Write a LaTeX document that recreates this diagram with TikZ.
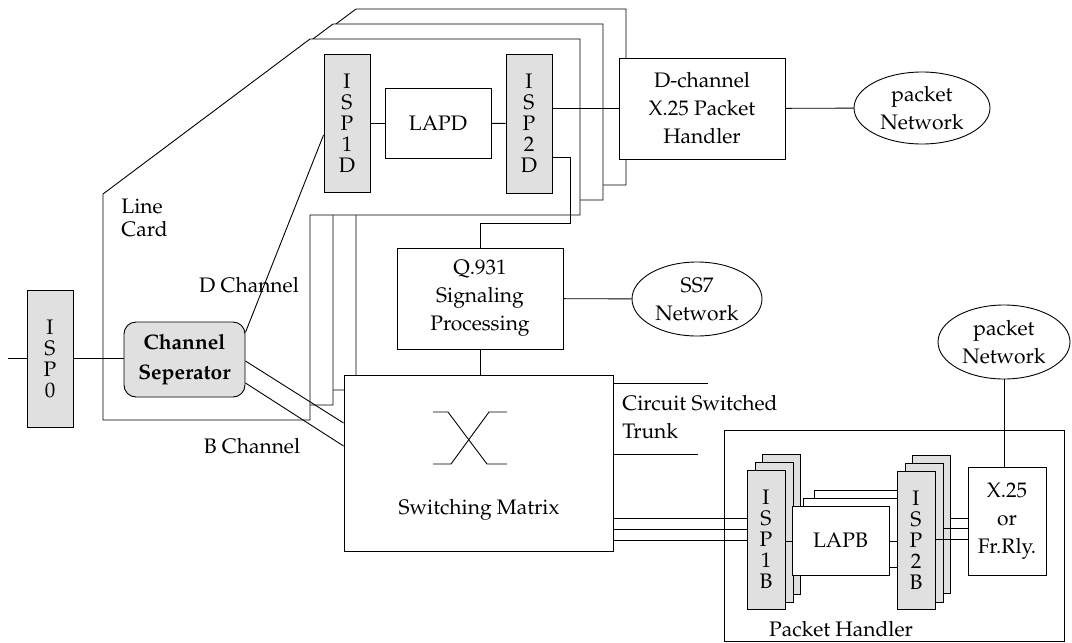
\documentclass[tikz,border=0pt]{standalone}
\usepackage[T1]{fontenc}
\usepackage{mathpazo}
\usetikzlibrary{shapes.geometric}

\begin{document}
\begin{tikzpicture}[x=1pt,y=-1pt,line width=0.9pt,
  every node/.style={inner sep=0pt,font=\fontsize{21}{28}\selectfont},
  box/.style={draw,fill=white,align=center},
  ispbox/.style={draw,fill=black!12,align=center,minimum width=38,
    font=\fontsize{21}{21}\selectfont},
  netw/.style={draw,fill=white,ellipse,align=center},
  card/.style={draw,fill=white}]
\useasboundingbox (0,0) rectangle (1072,643);
\foreach \s in {2,1,0}
  \draw[card,shift={(23*\s,-15*\s)}] (103,194) -- (310,39) -- (580,39)
    -- (580,215) -- (310,215) -- (310,420) -- (103,420) -- cycle;
\node[anchor=west,align=left,font=\fontsize{21}{23}\selectfont] (lc) at (121,217.5) {Line\\Card};
\node[ispbox,minimum width=46,minimum height=137] (isp0) at (50,358.5) {I\\S\\P\\0};
\node[box,fill=black!12,rounded corners=12,minimum width=121,minimum height=75,
  font=\fontsize{21}{30}\selectfont\bfseries] (chsep) at (184.5,359.5) {Channel\\Seperator};
\node[ispbox,minimum width=46,minimum height=138] (isp1d) at (347,123) {I\\S\\P\\1\\D};
\node[box,minimum width=106,minimum height=70] (lapd) at (438,123) {LAPD};
\node[ispbox,minimum width=46,minimum height=139] (isp2d) at (529,123.5) {I\\S\\P\\2\\D};
\node[box,minimum width=166,minimum height=101] (dph) at (702,108.5) {D-channel\\X.25 Packet\\Handler};
\node[netw,minimum width=136,minimum height=72] (pnet1) at (922,108) {packet\\Network};
\node[box,minimum width=166,minimum height=101] (q931) at (480,298.5) {Q.931\\Signaling\\Processing};
\node[netw,minimum width=130,minimum height=74] (ss7) at (697,299) {SS7\\Network};
\node[box,minimum width=269,minimum height=176] (swm) at (478.5,463) {};
\node (swmlab) at (479,510) {Switching Matrix};
\node[draw,minimum width=340,minimum height=211] (ph) at (894,535.5) {};
\node (phlab) at (841,629) {Packet Handler};
\node[ispbox,minimum height=140] (isp1bc) at (781,524) {};
\node[ispbox,minimum height=140] (isp1bb) at (774,532) {};
\node[ispbox,minimum height=139] (isp1b) at (766,539.5) {I\\S\\P\\1\\B};
\node[box,minimum width=97,minimum height=69] (lapbc) at (862.5,524.5) {};
\node[box,minimum width=97,minimum height=69] (lapbb) at (851.5,532.5) {};
\node[box,minimum width=97,minimum height=69] (lapb) at (840.5,540.5) {LAPB};
\node[ispbox,minimum height=138] (isp2bc) at (931,524) {};
\node[ispbox,minimum height=139] (isp2bb) at (924,532.5) {};
\node[ispbox,minimum height=138] (isp2b) at (916,540) {I\\S\\P\\2\\B};
\node[box,minimum width=78,minimum height=108] (x25) at (1007,521) {X.25\\or\\Fr.Rly.};
\node[netw,minimum width=132,minimum height=74] (pnet2) at (1004,342) {packet\\Network};
\node[anchor=west,align=left] (cst) at (622,417) {Circuit Switched\\Trunk};
\node (dlab) at (249,285) {D Channel};
\node (blab) at (252,446) {B Channel};
\draw (433,412) -- (448,412) -- (487,464) -- (507,464);
\draw (433,464) -- (451,464) -- (489,412) -- (507,412);
\coordinate (in) at (8,358);
\coordinate (bend) at (570,223);
\coordinate (trk1) at (708,383);
\coordinate (trk2) at (698,454);
\draw (in) -- (in -| isp0.west);
\draw (isp0.east |- 0,358) -- (chsep.west |- 0,358);
\draw (chsep.24) -- ([yshift=-12pt]isp1d.west);
\draw ([yshift=-1.5pt]chsep.east) -- ([yshift=40pt]swm.west);
\draw ([yshift=-23.5pt]chsep.east) -- ([yshift=17pt]swm.west);
\draw (isp1d) -- (lapd);
\draw (lapd) -- (isp2d);
\draw (isp2d.east |- dph.west) -- (dph.west);
\draw (dph) -- (pnet1);
\draw ([yshift=-33.5pt]isp2d.east) -| (bend) -| (q931.north);
\draw (q931) -- (ss7);
\draw (q931.south) -- (q931.south |- swm.north);
\draw (swm.east |- trk1) -- (trk1);
\draw (swm.east |- trk2) -- (trk2);
\foreach \y in {518,529,540}
  \draw (swm.east |- 0,\y) -- (isp1b.west |- 0,\y);
\draw (isp1b.east |- 0,541) -- (lapb.west |- 0,541);
\draw (lapb.east |- 0,541) -- (isp2b.west |- 0,541);
\draw (isp2bc.east |- 0,518) -- (x25.west |- 0,518);
\draw (isp2bb.east |- 0,528) -- (x25.west |- 0,528);
\draw (isp2b.east |- 0,539) -- (x25.west |- 0,539);
\draw (pnet2) -- (pnet2 |- x25.north);
\end{tikzpicture}
\end{document}
